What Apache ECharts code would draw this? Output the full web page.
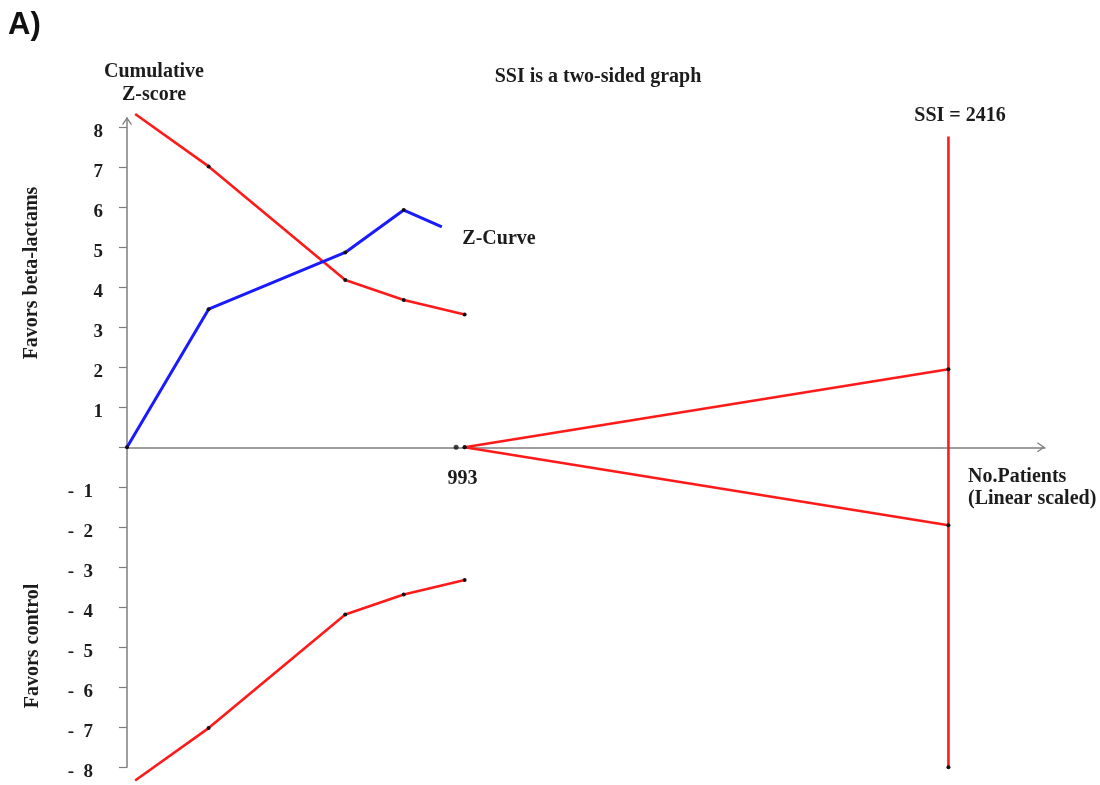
<!DOCTYPE html>
<html>
<head>
<meta charset="utf-8">
<script src="https://cdn.jsdelivr.net/npm/echarts@6/dist/echarts.min.js"></script>
<style>
  html, body { margin: 0; padding: 0; background: #ffffff; }
  #chart { width: 1100px; height: 785px; }
</style>
</head>
<body>
<div id="chart"></div>
<script>
// Trial sequential analysis: cumulative Z-curve against O'Brien-Fleming style boundaries
const zCurvePatients = [0, 240, 642, 814, 926];
const zCurveScores = [0, 3.45, 4.87, 5.93, 5.51];

const boundaryPatients = [24, 240, 642, 814, 993];
const boundaryScores = [8.33, 7.02, 4.18, 3.68, 3.32];

const futilityPatients = [993, 2416];
const futilityScores = [0, 1.95];

const requiredSize = 2416;
const requiredLineScores = [7.77, -8];

const axisMarkPatients = [968];

const yTickValues = [-8, -7, -6, -5, -4, -3, -2, -1, 0, 1, 2, 3, 4, 5, 6, 7, 8];

const SERIF = '"Liberation Serif", "Times New Roman", serif';
const RED = '#ff1a1a';
const BLUE = '#1a1aff';
const AXIS = '#7f7f7f';
const INK = '#1c1c1c';
const DOT = { color: '#111111' };
const TXT = 'bold 20px ' + SERIF;

// open chevron used as axis arrow head
const chevron = 'path://M0,72 L50,0 L100,72 L89,80 L50,22 L11,80 Z';

function pairs(xs, ys, sign, firstBare, lastBare) {
  return xs.map((x, i) => {
    const item = { value: [x, sign * ys[i]] };
    if ((firstBare && i === 0) || (lastBare && i === xs.length - 1)) item.symbol = 'none';
    return item;
  });
}

const chart = echarts.init(document.getElementById('chart'), null, { renderer: 'canvas' });

const lineBase = {
  type: 'line',
  symbol: 'circle',
  symbolSize: 4,
  itemStyle: DOT,
  clip: false,
  silent: true,
  animation: false,
  z: 3
};

// accrued sample size written under its point on the patient axis
const futilityUpperData = pairs(futilityPatients, futilityScores, 1, false, false);
futilityUpperData[0].label = {
  show: true,
  position: 'bottom',
  distance: 20,
  formatter: p => String(p.value[0]),
  fontFamily: SERIF,
  fontWeight: 'bold',
  fontSize: 20,
  color: INK,
  offset: [-2, 0]
};

chart.setOption({
  animation: false,
  backgroundColor: '#ffffff',
  grid: { left: 127, right: 55, top: 118, bottom: 17.7, outerBoundsMode: 'none', containLabel: false },
  xAxis: {
    type: 'value',
    min: 0,
    max: 2700,
    splitLine: { show: false },
    axisLine: {
      onZero: true,
      lineStyle: { color: AXIS, width: 1.5 },
      symbol: ['none', chevron],
      symbolSize: [10, 8],
      symbolOffset: [0, -4]
    },
    axisTick: { show: false },
    axisLabel: { show: false }
  },
  yAxis: {
    type: 'value',
    min: -8,
    max: 8.23,
    interval: 1,
    splitLine: { show: false },
    axisLine: {
      lineStyle: { color: AXIS, width: 1.5 },
      symbol: ['none', chevron],
      symbolSize: [11, 8],
      symbolOffset: [0, -3]
    },
    axisTick: {
      customValues: yTickValues,
      length: 8,
      lineStyle: { color: AXIS, width: 1.2 }
    },
    axisLabel: {
      customValues: yTickValues,
      margin: 24,
      padding: [10, 0, 0, 0],
      fontFamily: SERIF,
      fontWeight: 'bold',
      fontSize: 19,
      color: INK,
      formatter: v => {
        if (v === 0) return '';
        if (v < 0) return '{n|-  ' + Math.abs(v) + '}';
        return String(v);
      },
      rich: {
        n: {
          fontFamily: SERIF,
          fontWeight: 'bold',
          fontSize: 19,
          color: INK,
          padding: [0, 10, 0, 0]
        }
      }
    }
  },
  series: [
    Object.assign({}, lineBase, {
      name: 'Upper boundary',
      data: pairs(boundaryPatients, boundaryScores, 1, true, false),
      lineStyle: { color: RED, width: 2.6 }
    }),
    Object.assign({}, lineBase, {
      name: 'Lower boundary',
      data: pairs(boundaryPatients, boundaryScores, -1, true, false),
      lineStyle: { color: RED, width: 2.6 }
    }),
    Object.assign({}, lineBase, {
      name: 'Futility upper',
      data: futilityUpperData,
      lineStyle: { color: RED, width: 2.6 }
    }),
    Object.assign({}, lineBase, {
      name: 'Futility lower',
      data: pairs(futilityPatients, futilityScores, -1, false, false),
      lineStyle: { color: RED, width: 2.6 }
    }),
    Object.assign({}, lineBase, {
      name: 'Required size',
      data: requiredLineScores.map((z, i) => i === 0
        ? { value: [requiredSize, z], symbol: 'none' }
        : { value: [requiredSize, z] }),
      lineStyle: { color: RED, width: 2.6 }
    }),
    {
      type: 'scatter',
      name: 'Axis mark',
      data: axisMarkPatients.map(n => [n, 0]),
      symbolSize: 5,
      itemStyle: DOT,
      silent: true,
      z: 4
    },
    Object.assign({}, lineBase, {
      name: 'Z-curve',
      data: pairs(zCurvePatients, zCurveScores, 1, false, true),
      lineStyle: { color: BLUE, width: 3 },
      z: 5
    })
  ],
  graphic: [
    {
      type: 'text', left: 8, top: 10,
      style: { text: 'A)', font: 'bold 31px "Liberation Sans", Arial, sans-serif', fill: '#111111' }
    },
    {
      type: 'text', x: 154, y: 72,
      style: { text: 'Cumulative', font: TXT, fill: INK, align: 'center', verticalAlign: 'middle' }
    },
    {
      type: 'text', x: 154, y: 95,
      style: { text: 'Z-score', font: TXT, fill: INK, align: 'center', verticalAlign: 'middle' }
    },
    {
      type: 'text', x: 598, y: 77,
      style: { text: 'SSI is a two-sided graph', font: TXT, fill: INK, align: 'center', verticalAlign: 'middle' }
    },
    {
      type: 'text', x: 960, y: 116,
      style: { text: 'SSI = ' + requiredSize, font: TXT, fill: INK, align: 'center', verticalAlign: 'middle' }
    },
    {
      type: 'text', x: 499, y: 239,
      style: { text: 'Z-Curve', font: TXT, fill: INK, align: 'center', verticalAlign: 'middle' }
    },
    {
      type: 'text', x: 968, y: 477,
      style: { text: 'No.Patients', font: TXT, fill: INK, align: 'left', verticalAlign: 'middle' }
    },
    {
      type: 'text', x: 968, y: 499,
      style: { text: '(Linear scaled)', font: TXT, fill: INK, align: 'left', verticalAlign: 'middle' }
    },
    {
      type: 'text', x: 32, y: 273, rotation: Math.PI / 2,
      style: { text: 'Favors beta-lactams', font: TXT, fill: INK, align: 'center', verticalAlign: 'middle' }
    },
    {
      type: 'text', x: 33, y: 646, rotation: Math.PI / 2,
      style: { text: 'Favors control', font: TXT, fill: INK, align: 'center', verticalAlign: 'middle' }
    }
  ]
});
</script>
</body>
</html>
